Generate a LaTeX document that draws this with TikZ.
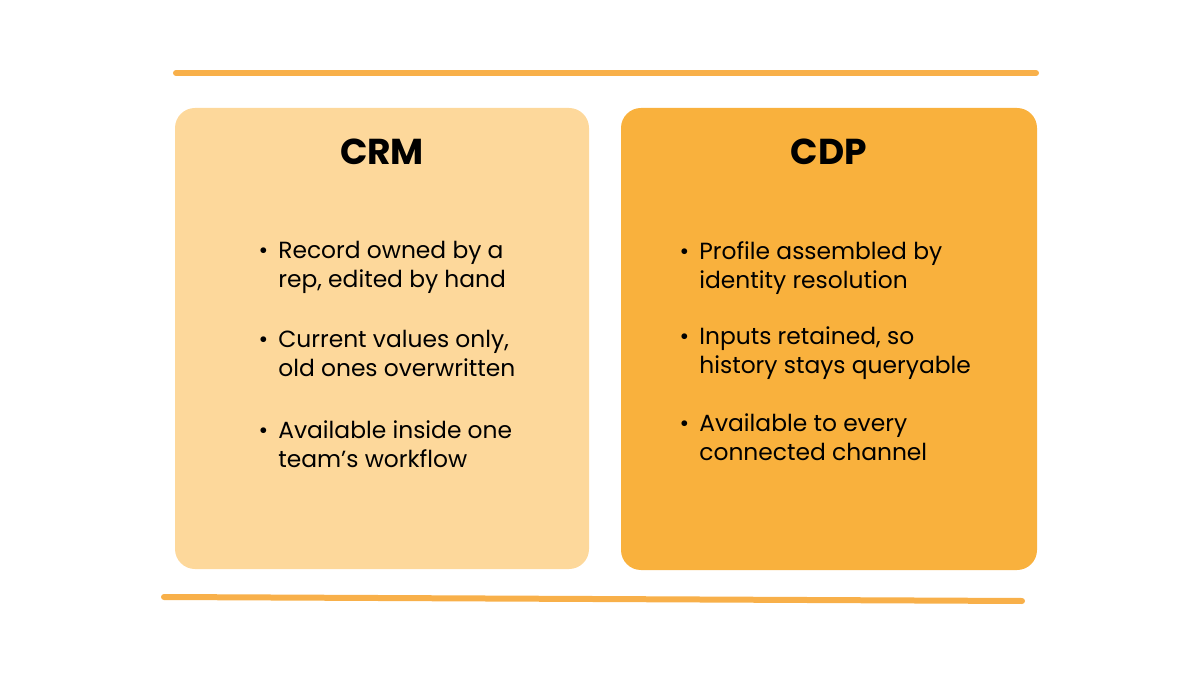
\documentclass[tikz,border=0pt]{standalone}
\usepackage{fontspec}
\setmainfont{Poppins}
\definecolor{lineorange}{HTML}{F8B04A}
\definecolor{crmfill}{HTML}{FDD89B}
\definecolor{cdpfill}{HTML}{F9B13D}
\newcommand{\pt}{\llap{•\hspace{0.2cm}}}
\tikzset{
  panel/.style={rounded corners=0.4cm, draw=none},
  rule/.style={line width=0.12cm, lineorange, line cap=round},
  heading/.style={font=\bfseries\fontsize{20.5}{24}\selectfont, anchor=center},
  point/.style={font=\fontsize{13.3}{16.5}\selectfont, anchor=north west, align=left, inner sep=0pt}
}
\begin{document}
\begin{tikzpicture}[x=0.02cm,y=-0.02cm]
\useasboundingbox (0,0) rectangle (1200,675);
% frame rules
\coordinate (topL) at (176,73);
\coordinate (topR) at (1036,73);
\coordinate (botL) at (164,597);
\coordinate (botR) at (1022,601);
\draw[rule] (topL) -- (topR);
\draw[rule] (botL) -- (botR);
% panels
\fill[panel, crmfill] (175,108) rectangle (589,569);
\fill[panel, cdpfill] (621,108) rectangle (1037,570);
\node[heading] (crm) at (382,152) {CRM};
\node[heading] (cdp) at (829,152) {CDP};
% left points
\node[point] (crm1) at (278,241) {\pt Record owned by a\\rep, edited by hand};
\node[point] (crm2) at (278,330) {\pt Current values only,\\old ones overwritten};
\node[point] (crm3) at (278,420) {\pt Available inside one\\team’s workflow};
% right points
\node[point] (cdp1) at (699,241) {\pt Profile assembled by\\identity resolution};
\node[point] (cdp2) at (699,326) {\pt Inputs retained, so\\history stays queryable};
\node[point] (cdp3) at (699,413) {\pt Available to every\\connected channel};
\end{tikzpicture}
\end{document}
